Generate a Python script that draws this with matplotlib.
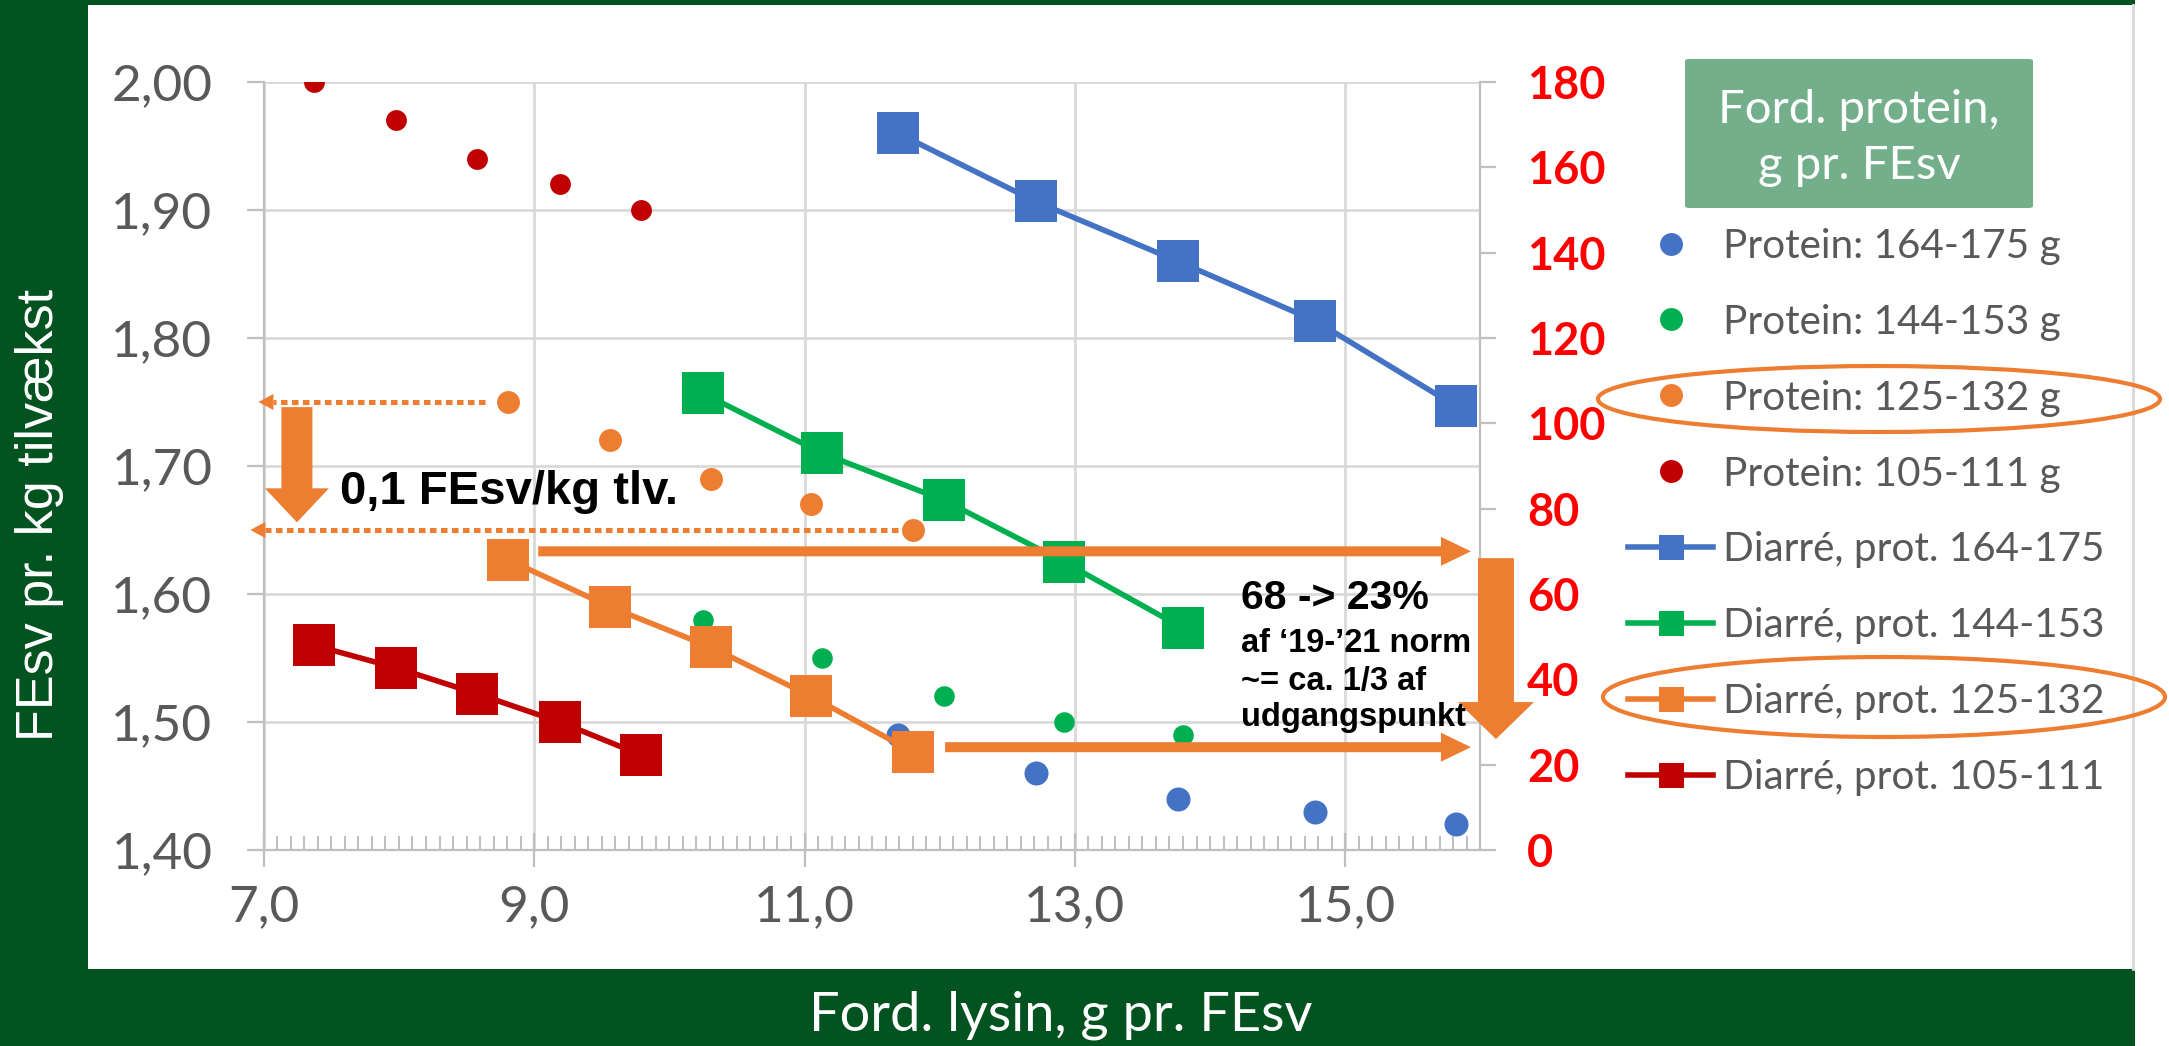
import matplotlib
matplotlib.use('Agg')
import matplotlib.pyplot as plt
from matplotlib.lines import Line2D
from matplotlib.patches import Ellipse, Rectangle, FancyBboxPatch
from matplotlib.ticker import MultipleLocator, FixedLocator

# ---------------- data ----------------
prot_labels = ['Protein: 164-175 g', 'Protein: 144-153 g',
               'Protein: 125-132 g', 'Protein: 105-111 g']
diar_labels = ['Diarré, prot. 164-175', 'Diarré, prot. 144-153',
               'Diarré, prot. 125-132', 'Diarré, prot. 105-111']
series_colors = ['#4472C4', '#00B050', '#ED7D31', '#C00000']

lys_blue = [11.69, 12.71, 13.76, 14.78, 15.82]
lys_green = [10.25, 11.13, 12.03, 12.92, 13.80]
lys_orange = [8.81, 9.56, 10.31, 11.05, 11.80]
lys_red = [7.37, 7.98, 8.58, 9.19, 9.79]

fe_blue = [1.49, 1.46, 1.44, 1.43, 1.42]
fe_green = [1.58, 1.55, 1.52, 1.50, 1.49]
fe_orange = [1.75, 1.72, 1.69, 1.67, 1.65]
fe_red = [2.00, 1.97, 1.94, 1.92, 1.90]

diar_blue = [168, 152, 138, 124, 104]
diar_green = [107, 93, 82, 67.5, 52]
diar_orange = [68, 57, 47.5, 36, 23]
diar_red = [48, 42.7, 36.6, 30, 22.3]

x_ticks = [7.0, 9.0, 11.0, 13.0, 15.0]
x_ticklabels = ['7,0', '9,0', '11,0', '13,0', '15,0']
y_ticks = [1.40, 1.50, 1.60, 1.70, 1.80, 1.90, 2.00]
y_ticklabels = ['1,40', '1,50', '1,60', '1,70', '1,80', '1,90', '2,00']
y2_ticks = [0, 20, 40, 60, 80, 100, 120, 140, 160, 180]
y2_ticklabels = ['0', '20', '40', '60', '80', '100', '120', '140', '160', '180']

x_label = 'Ford. lysin, g pr. FEsv'
y_label = 'FEsv pr. kg tilvækst'
legend_title = ['Ford. protein,', 'g pr. FEsv']
note_left = '0,1 FEsv/kg tlv.'
note_right_big = '68 -> 23%'
note_right_small = ['af \u201819-\u201921 norm', '~= ca. 1/3 af', 'udgangspunkt']

# ---------------- styling ----------------
W, H, DPI = 2169, 1046, 100
DARK_GREEN = '#02531F'
BOX_GREEN = '#73AF8B'
ORANGE = '#ED7D31'
GRID = '#D9D9D9'
AXC = '#BFBFBF'
TXT = '#595959'
CAL = ['Lato', 'DejaVu Sans']
ARI = ['Liberation Sans', 'DejaVu Sans']


def fx(px):
    return px / W


def fy(py):
    return 1 - py / H


fig = plt.figure(figsize=(W / DPI, H / DPI), dpi=DPI, facecolor='white')

# frame
for (x0, y0, x1, y1) in [(0, 0, 88, 1046), (0, 0, 2135, 5), (0, 969, 2135, 1046)]:
    fig.patches.append(Rectangle((fx(x0), fy(y1)), fx(x1) - fx(x0), fy(y0) - fy(y1),
                                 transform=fig.transFigure, facecolor=DARK_GREEN,
                                 edgecolor='none', zorder=0))
fig.lines.append(Line2D([fx(2133), fx(2133)], [fy(969), fy(5)], transform=fig.transFigure,
                        color=GRID, lw=2))

ax = fig.add_axes([fx(263.8), fy(850), fx(1480.4) - fx(263.8), fy(82) - fy(850)])
ax2 = ax.twinx()

ax.set_xlim(7, 16)
ax.set_ylim(1.40, 2.00)
ax2.set_ylim(0, 180)

# dots (left axis)
dot_sizes = [17.3, 14.8, 16.5, 15.0]
for xs, ys, c, ms in zip([lys_blue, lys_green, lys_orange, lys_red],
                         [fe_blue, fe_green, fe_orange, fe_red], series_colors, dot_sizes):
    ax.plot(xs, ys, 'o', color=c, ms=ms, mew=0, zorder=3)

# lines with squares (right axis)
for xs, ys, c in zip([lys_blue, lys_green, lys_orange, lys_red],
                     [diar_blue, diar_green, diar_orange, diar_red], series_colors):
    ax2.plot(xs, ys, '-s', color=c, lw=4, ms=30, mew=0, zorder=3)

# axes styling
ax.xaxis.set_major_locator(FixedLocator(x_ticks))
ax.xaxis.set_minor_locator(MultipleLocator(0.1))
ax.set_xticklabels(x_ticklabels)
ax.set_yticks(y_ticks)
ax.set_yticklabels(y_ticklabels)
ax2.set_yticks(y2_ticks)
ax2.set_yticklabels(y2_ticklabels)

ax.grid(True, which='major', color=GRID, lw=2)
ax.set_axisbelow(True)
for s in ['top', 'right']:
    ax.spines[s].set_visible(False)
for s in ['left', 'bottom']:
    ax.spines[s].set_color(AXC)
    ax.spines[s].set_linewidth(1.6)
for s in ['top', 'left', 'bottom']:
    ax2.spines[s].set_visible(False)
ax2.spines['right'].set_color(AXC)
ax2.spines['right'].set_linewidth(1.6)

ax.tick_params(axis='x', which='major', direction='inout', length=25, width=1.6, color=AXC,
               pad=12, labelsize=37, labelcolor=TXT)
ax.tick_params(axis='x', which='minor', direction='in', length=10, width=1.4, color=AXC)
ax.tick_params(axis='y', which='major', direction='out', length=12, width=1.6, color=AXC,
               pad=25, labelsize=37, labelcolor=TXT)
ax2.tick_params(axis='y', which='major', direction='out', length=11.5, width=1.6, color=AXC,
                pad=22, labelsize=32.5, labelcolor='#FF0000')
for t in ax.get_xticklabels() + ax.get_yticklabels():
    t.set_fontfamily(CAL)
for t in ax2.get_yticklabels():
    t.set_fontfamily(CAL)
    t.set_fontweight('bold')

# axis labels (on the green frame)
fig.text(fx(1061), fy(1031), x_label, color='white', fontsize=39, family=CAL,
         ha='center', va='baseline')
fig.text(fx(40), fy(515), y_label, color='white', fontsize=37.5, family=ARI,
         rotation=90, ha='center', va='center')

# legend title box
fig.patches.append(FancyBboxPatch((fx(1685), fy(208)), fx(2033) - fx(1685), fy(59) - fy(208),
                                  boxstyle='round,pad=0,rounding_size=0.002',
                                  transform=fig.transFigure, facecolor=BOX_GREEN,
                                  edgecolor='none', zorder=1))
fig.text(fx(1859), fy(123), legend_title[0], color='white', fontsize=34, family=CAL,
         ha='center', va='baseline', zorder=2)
fig.text(fx(1859), fy(179), legend_title[1], color='white', fontsize=34, family=CAL,
         ha='center', va='baseline', zorder=2)

# legend
handles = [Line2D([], [], marker='o', ls='none', color=c, ms=16.5, mew=0) for c in series_colors]
handles += [Line2D([], [], marker='s', ls='-', lw=4, color=c, ms=18, mew=0) for c in series_colors]
leg = ax2.legend(handles, prot_labels + diar_labels, loc='center left',
                 bbox_to_anchor=(fx(1628), fy(512)), bbox_transform=fig.transFigure,
                 frameon=False, labelcolor=TXT, handlelength=2.1,
                 handletextpad=0.24, labelspacing=0.96, borderpad=0, borderaxespad=0,
                 prop={'family': CAL, 'size': 29.2})

# ellipses around highlighted legend entries
for (cx, cy, w, h) in [(1879, 399, 562, 66), (1884, 697, 562, 80)]:
    fig.patches.append(Ellipse((fx(cx), fy(cy)), w / W, h / H, transform=fig.transFigure,
                               facecolor='none', edgecolor=ORANGE, lw=3, zorder=5))

# ---------------- annotations ----------------
PXS = 72.0 / DPI  # mutation scale -> pixel units


def block_arrow(axis, xy, xytext, tail, hw, hl):
    axis.annotate('', xy=xy, xytext=xytext, annotation_clip=False,
                  arrowprops=dict(arrowstyle=f'simple,head_length={hl},head_width={hw},tail_width={tail}',
                                  mutation_scale=PXS, color=ORANGE, lw=0,
                                  shrinkA=0, shrinkB=0), zorder=6)


def dotted_arrow(axis, x_start, x_tip, x_headbase, y):
    axis.plot([x_start, x_headbase], [y, y], color=ORANGE, lw=3.6,
              ls=(0, (1.3, 0.9)), solid_capstyle='butt', dash_capstyle='butt',
              clip_on=False, zorder=6)
    block_arrow(axis, (x_tip, y), (x_headbase + 0.02, y), 0.1, 16, 15)


dotted_arrow(ax, 8.64, 6.96, 7.07, 1.75)
dotted_arrow(ax, 11.69, 6.90, 7.01, 1.65)
block_arrow(ax, (7.245, 1.656), (7.245, 1.746), 31, 64, 34)

block_arrow(ax2, (15.93, 70), (9.03, 70), 10, 29, 30)
block_arrow(ax2, (15.93, 24.1), (12.04, 24.1), 10, 29, 30)
block_arrow(ax2, (16.115, 26.0), (16.115, 68.4), 36, 76, 37)

ax2.text(7.565, 1.670, note_left, transform=ax.transData, fontsize=34, fontweight='bold',
         family=ARI, color='black', ha='left', va='baseline', zorder=7)
ax2.text(14.23, 1.588, note_right_big, transform=ax.transData, fontsize=29.5, fontweight='bold',
         family=ARI, color='black', ha='left', va='baseline', zorder=7)
for s, yb in zip(note_right_small, [1.555, 1.525, 1.497]):
    ax2.text(14.23, yb, s, transform=ax.transData, fontsize=23.5, fontweight='bold',
             family=ARI, color='black', ha='left', va='baseline', zorder=7)

fig.savefig('out.png', dpi=DPI, facecolor=fig.get_facecolor())
